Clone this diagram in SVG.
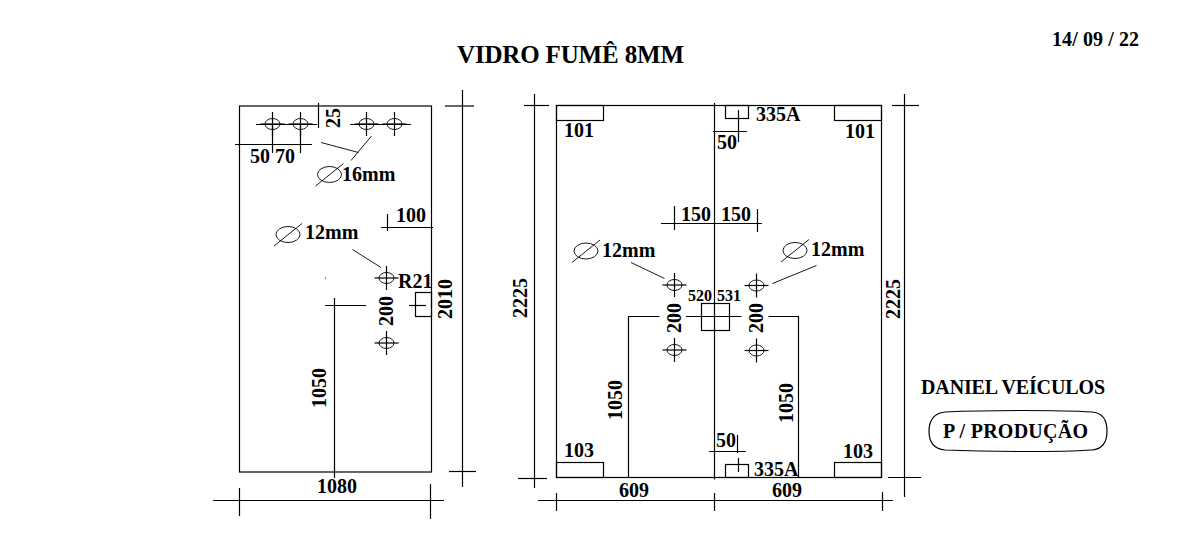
<svg xmlns="http://www.w3.org/2000/svg" width="1202" height="533" viewBox="0 0 1202 533">
<style>
line,rect,ellipse,path{fill:none;stroke:#000;stroke-width:1.2}
.t{stroke-width:.9}
text{font-family:"Liberation Serif",serif;font-weight:bold;font-size:20px;fill:#000}
.s{font-size:16px}
.h{font-size:25px}
</style>
<defs>
<g id="hole"><ellipse rx="7.5" ry="5.5" class="t"/><line x1="-12" x2="12" y1="0" y2="0"/><line x1="0" x2="0" y1="-12" y2="12"/></g>
<g id="dia"><ellipse rx="12" ry="8" class="t"/><line x1="-14" y1="11.5" x2="14" y2="-11" class="t"/></g>
</defs>
<rect width="1202" height="533" style="fill:#fff;stroke:none"/>
<g id="titles">
<text x="457" y="63" class="h" textLength="227">VIDRO FUMÊ 8MM</text>
<text x="1052" y="46" textLength="87">14/ 09 / 22</text>
</g>
<g id="left-panel">
<rect x="239.5" y="106" width="192" height="366"/>
<rect x="415.5" y="292.5" width="16" height="24"/>
</g>
<g id="right-panel">
<rect x="556.5" y="105.5" width="325" height="372"/>
<rect x="556.5" y="105.5" width="47" height="15"/>
<rect x="834.5" y="105.5" width="47" height="15"/>
<rect x="725.5" y="105.5" width="23" height="13"/>
<rect x="556.5" y="462.5" width="47" height="15"/>
<rect x="834.5" y="462.5" width="47" height="15"/>
<rect x="725.5" y="464.5" width="23" height="13"/>
<rect x="701.5" y="303.5" width="28" height="27"/>
</g>
<g id="holes">
<use href="#hole" x="272.5" y="124"/><use href="#hole" x="300.5" y="124"/><use href="#hole" x="366.5" y="124"/><use href="#hole" x="394.5" y="124"/>
<use href="#hole" x="386.5" y="278"/><use href="#hole" x="386.5" y="343"/>
<use href="#hole" x="674.5" y="285"/><use href="#hole" x="674.5" y="350"/>
<use href="#hole" x="756.5" y="285.5"/><use href="#hole" x="756.5" y="350.5"/>
<use href="#dia" x="329.5" y="174.5"/><use href="#dia" x="288" y="234.5"/><use href="#dia" x="586" y="251"/><use href="#dia" x="795" y="250.5"/>
</g>
<g id="connectors">
<line x1="256" y1="124.5" x2="317" y2="124.5"/><line x1="350" y1="124.5" x2="411" y2="124.5"/>
<line x1="272.5" y1="124" x2="272.5" y2="153"/><line x1="300.5" y1="124" x2="300.5" y2="153"/>
<line x1="318.5" y1="103" x2="318.5" y2="128"/>
<line x1="235" y1="144.5" x2="312" y2="144.5"/>
<line x1="321" y1="142.5" x2="358.5" y2="152.5" class="t"/><line x1="371.5" y1="136" x2="351" y2="160.5" class="t"/>
<line x1="381" y1="227.5" x2="433" y2="227.5"/><line x1="387.5" y1="214" x2="387.5" y2="231"/>
<line x1="352.5" y1="249.5" x2="381" y2="267.5" class="t"/>
<line x1="325" y1="278" x2="326" y2="278"/>
<line x1="409" y1="305.5" x2="426" y2="305.5"/>
<line x1="325" y1="305.5" x2="366" y2="305.5"/><line x1="334.5" y1="298" x2="334.5" y2="478"/>
<line x1="462.5" y1="90" x2="462.5" y2="487"/><line x1="445" y1="106" x2="474" y2="106"/><line x1="449" y1="471.5" x2="476" y2="471.5"/>
<line x1="213" y1="500.5" x2="444" y2="500.5"/><line x1="239.5" y1="488" x2="239.5" y2="516"/><line x1="430.5" y1="484" x2="430.5" y2="519"/>
<line x1="714.5" y1="103" x2="714.5" y2="479.5"/>
<line x1="738.5" y1="110" x2="738.5" y2="142"/><line x1="713" y1="131.5" x2="747" y2="131.5"/>
<line x1="534.5" y1="94" x2="534.5" y2="488"/><line x1="524" y1="105.5" x2="549" y2="105.5"/><line x1="518" y1="478.5" x2="547" y2="478.5"/>
<line x1="661" y1="223.5" x2="762" y2="223.5"/><line x1="674.5" y1="206" x2="674.5" y2="230"/><line x1="757.5" y1="209" x2="757.5" y2="232"/>
<line x1="631" y1="262.5" x2="664.5" y2="278.5" class="t"/><line x1="772.5" y1="283.5" x2="816.5" y2="265.5" class="t"/>
<path d="M628.5 477V316.5H659.5M686 316.5H741.5M768.5 316.5H798.5V477"/>
<line x1="709" y1="451.5" x2="746" y2="451.5"/><line x1="737.5" y1="435" x2="737.5" y2="453"/><line x1="738.5" y1="458" x2="738.5" y2="472"/>
<line x1="538" y1="500.5" x2="893" y2="500.5"/><line x1="556.5" y1="493" x2="556.5" y2="511"/><line x1="714.5" y1="493" x2="714.5" y2="511"/><line x1="882.5" y1="492" x2="882.5" y2="511"/>
<line x1="904.5" y1="94" x2="904.5" y2="497"/><line x1="892" y1="105.5" x2="919" y2="105.5"/><line x1="888" y1="477.5" x2="921" y2="477.5"/>
</g>
<g id="left-labels">
<text x="250" y="163">50</text><text x="275" y="163">70</text>
<text transform="translate(340,128) rotate(-90)">25</text>
<text x="342" y="181">16mm</text>
<text x="396" y="222">100</text>
<text x="305" y="239">12mm</text>
<text x="398" y="288">R21</text>
<text transform="translate(393,326) rotate(-90)">200</text>
<text transform="translate(452,319) rotate(-90)">2010</text>
<text transform="translate(326,408) rotate(-90)">1050</text>
<text x="317" y="493">1080</text>
</g>
<g id="right-labels">
<text x="564" y="137">101</text><text x="845" y="138">101</text>
<text x="756" y="121">335A</text><text x="717" y="149">50</text>
<text transform="translate(527,318) rotate(-90)">2225</text>
<text x="681" y="221">150</text><text x="721" y="221">150</text>
<text x="602" y="257">12mm</text><text x="811" y="256">12mm</text>
<text x="688" y="301" class="s">520</text><text x="717" y="301" class="s">531</text>
<text transform="translate(681,333) rotate(-90)">200</text>
<text transform="translate(763,333) rotate(-90)">200</text>
<text transform="translate(622,420) rotate(-90)">1050</text>
<text transform="translate(793,423) rotate(-90)">1050</text>
<text x="564" y="457">103</text><text x="843" y="458">103</text>
<text x="716" y="447">50</text><text x="754" y="476">335A</text>
<text x="619" y="497">609</text><text x="772" y="497">609</text>
<text transform="translate(900,319) rotate(-90)">2225</text>
</g>
<g id="stamp">
<text x="921" y="394" textLength="184">DANIEL VEÍCULOS</text>
<path d="M945 412C990 410 1060 410 1092 412C1104 413 1107 422 1107 431C1107 441 1104 449 1092 450C1060 452 990 452 945 450C933 449 929 441 929 431C929 422 933 413 945 412Z"/>
<text x="943" y="438" textLength="145">P / PRODUÇÃO</text>
</g>
</svg>
